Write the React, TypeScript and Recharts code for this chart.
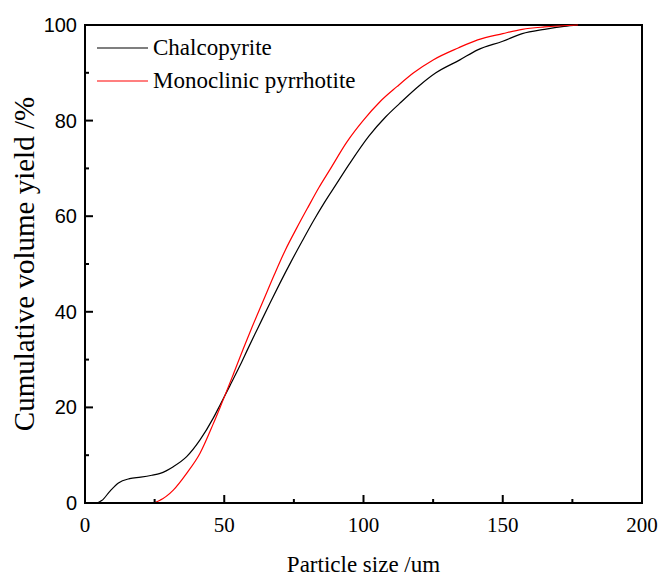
import { LineChart, Line, XAxis, YAxis, Legend, ReferenceArea } from 'recharts';

// particle size (um) vs cumulative volume yield (%)
const chalcopyrite = [
  { x: 0, y: 0 }, { x: 4, y: 0 }, { x: 6, y: 0.5 }, { x: 9, y: 2.5 }, { x: 12, y: 4.2 },
  { x: 16, y: 5.1 }, { x: 20, y: 5.4 }, { x: 24, y: 5.8 }, { x: 27, y: 6.2 }, { x: 31.7, y: 7.6 },
  { x: 36.5, y: 9.7 }, { x: 41.3, y: 13.2 }, { x: 46, y: 17.7 }, { x: 48.5, y: 20.5 }, { x: 52, y: 24.5 },
  { x: 55.7, y: 28.8 }, { x: 58.6, y: 32.4 }, { x: 62, y: 36.5 }, { x: 66.4, y: 41.8 }, { x: 70, y: 46 },
  { x: 74, y: 50.5 }, { x: 78, y: 54.8 }, { x: 82, y: 59 }, { x: 86, y: 62.9 }, { x: 90, y: 66.5 },
  { x: 95, y: 71 }, { x: 102, y: 76.8 }, { x: 108, y: 80.8 }, { x: 113, y: 83.6 }, { x: 120, y: 87.3 },
  { x: 126, y: 90 }, { x: 134.6, y: 92.7 }, { x: 141, y: 94.8 }, { x: 150, y: 96.6 }, { x: 157, y: 98.2 },
  { x: 165, y: 99.1 }, { x: 172, y: 99.7 }, { x: 177, y: 100 },
];

const pyrrhotite = [
  { x: 0, y: 0 }, { x: 24, y: 0 }, { x: 27, y: 0.6 }, { x: 31.7, y: 2.7 }, { x: 36.5, y: 6.2 },
  { x: 41.3, y: 10.4 }, { x: 46, y: 16.5 }, { x: 48.5, y: 20 }, { x: 53.3, y: 27 }, { x: 56.8, y: 32.2 },
  { x: 60, y: 36.8 }, { x: 64, y: 42.3 }, { x: 68, y: 47.8 }, { x: 72, y: 53 }, { x: 76, y: 57.5 },
  { x: 80, y: 61.8 }, { x: 84, y: 66 }, { x: 88, y: 69.8 }, { x: 94, y: 75.5 }, { x: 100, y: 80.1 },
  { x: 106, y: 84 }, { x: 112, y: 87.1 }, { x: 118, y: 90 }, { x: 125, y: 92.7 }, { x: 134, y: 95.2 },
  { x: 141, y: 96.9 }, { x: 150, y: 98.2 }, { x: 157, y: 99.1 }, { x: 165, y: 99.6 }, { x: 177, y: 100 },
];

const xTicks = [0, 25, 50, 75, 100, 125, 150, 175, 200];
const yTicks = [0, 10, 20, 30, 40, 50, 60, 70, 80, 90, 100];

const seriesNames = ['Chalcopyrite', 'Monoclinic pyrrhotite'];
const seriesColors = ['#000000', '#ff0000'];

const serif = 'Liberation Serif, Times New Roman, Times, DejaVu Serif, serif';
const sans = 'Liberation Sans, Arial, sans-serif';

const XTick = ({ x, y, payload }: any) => {
  const major = payload.value % 50 === 0;
  return (
    <g>
      <line x1={x} y1={y} x2={x} y2={y - (major ? 8 : 4)} stroke="#000" strokeWidth={2} />
      {major && (
        <text x={x} y={y + 29} textAnchor="middle" fontFamily={serif} fontSize={21} fill="#000">
          {payload.value}
        </text>
      )}
    </g>
  );
};

const YTick = ({ x, y, payload }: any) => {
  const major = payload.value % 20 === 0;
  return (
    <g>
      <line x1={x} y1={y} x2={x + (major ? 8 : 4)} y2={y} stroke="#000" strokeWidth={2} />
      {major && (
        <text x={x - 8} y={y + 7} textAnchor="end" fontFamily={sans} fontSize={20} fill="#000">
          {payload.value}
        </text>
      )}
    </g>
  );
};

const LegendBox = () => (
  <div style={{ fontFamily: serif, fontSize: 23, lineHeight: '33px', color: '#000' }}>
    {seriesNames.map((name, i) => (
      <div key={name} style={{ display: 'flex', alignItems: 'center', whiteSpace: 'nowrap' }}>
        <svg width={58} height={33}>
          <line x1={2} y1={17} x2={53} y2={17} stroke={seriesColors[i]} strokeWidth={1.2} />
        </svg>
        <span>{name}</span>
      </div>
    ))}
  </div>
);

export default function App() {
  return (
    <div style={{ position: 'absolute', left: 0, top: 0, background: '#fff' }}>
      <LineChart width={659} height={578} margin={{ top: 25, right: 17, bottom: 0, left: 0 }}>
        <XAxis
          dataKey="x"
          type="number"
          domain={[0, 200]}
          ticks={xTicks}
          height={75}
          tickSize={0}
          tickMargin={0}
          tickLine={false}
          axisLine={{ stroke: '#000', strokeWidth: 2 }}
          tick={<XTick />}
          interval={0}
          label={{
            value: 'Particle size /um',
            position: 'insideBottom',
            offset: 6,
            style: { fontFamily: serif, fontSize: 23, fill: '#000' },
          }}
        />
        <YAxis
          type="number"
          domain={[0, 100]}
          ticks={yTicks}
          width={85}
          tickSize={0}
          tickMargin={0}
          tickLine={false}
          axisLine={{ stroke: '#000', strokeWidth: 2 }}
          tick={<YTick />}
          interval={0}
          label={{
            value: 'Cumulative volume yield /%',
            angle: -90,
            position: 'insideLeft',
            offset: 24,
            style: { fontFamily: serif, fontSize: 29, fill: '#000', textAnchor: 'middle' },
          }}
        />
        <ReferenceArea x1={0} x2={200} y1={0} y2={100} fill="none" stroke="#000" strokeWidth={2} />
        <Legend
          layout="vertical"
          align="center"
          verticalAlign="middle"
          content={<LegendBox />}
          wrapperStyle={{ left: 95, top: 31, width: 'auto' }}
        />
        <Line
          data={chalcopyrite}
          dataKey="y"
          name={seriesNames[0]}
          type="monotone"
          stroke={seriesColors[0]}
          strokeWidth={1.2}
          dot={false}
          isAnimationActive={false}
        />
        <Line
          data={pyrrhotite}
          dataKey="y"
          name={seriesNames[1]}
          type="monotone"
          stroke={seriesColors[1]}
          strokeWidth={1.2}
          dot={false}
          isAnimationActive={false}
        />
      </LineChart>
    </div>
  );
}
